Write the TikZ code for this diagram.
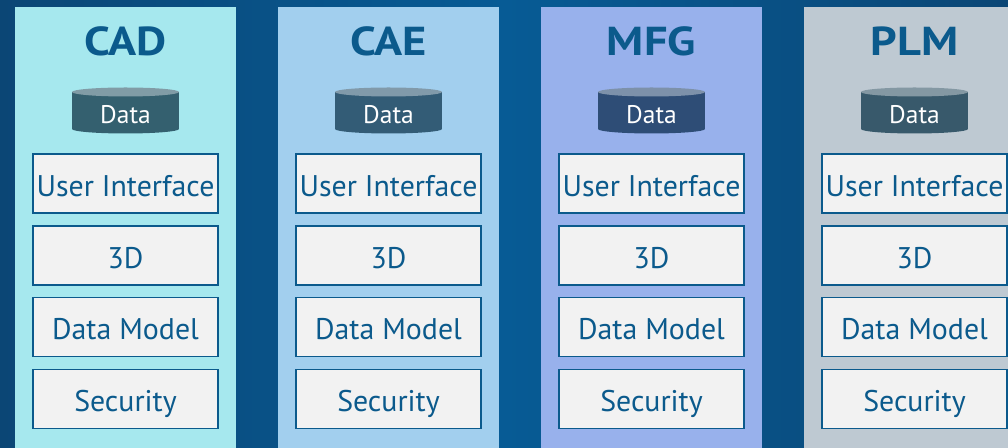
\documentclass[tikz,border=0pt]{standalone}
\usepackage{fontspec}
\setmainfont{PT Sans}
\usetikzlibrary{calc}

\definecolor{bgdark}{HTML}{0B4675}
\definecolor{bgmid}{HTML}{075B95}
\definecolor{colCAD}{HTML}{A6E8EE}
\definecolor{colCAE}{HTML}{A2CFEE}
\definecolor{colMFG}{HTML}{98B1EC}
\definecolor{colPLM}{HTML}{BEC9D2}
\definecolor{cylCAD}{HTML}{34606F}
\definecolor{cylCAE}{HTML}{335C76}
\definecolor{cylMFG}{HTML}{2E4D76}
\definecolor{cylPLM}{HTML}{38596B}
\definecolor{ink}{HTML}{0B5A8C}
\definecolor{boxfill}{HTML}{F2F2F2}

\begin{document}
\begin{tikzpicture}[x=0.02cm, y=-0.02cm,
  title/.style={text=ink, inner sep=0pt, xscale=1.15, font=\fontsize{23}{25}\selectfont\bfseries},
  datatext/.style={text=white, inner sep=0pt, font=\fontsize{14.5}{16}\selectfont},
  layer/.style={draw=ink, fill=boxfill, line width=1.1pt, text=ink,
    minimum width=3.7cm, minimum height=1.18cm, inner sep=0pt,
    text height=15pt, text depth=0.2pt, font=\fontsize{17}{19}\selectfont}]

\useasboundingbox (0,0) rectangle (1008,448);
\clip (0,0) rectangle (1008,448);
\shade[left color=bgdark, right color=bgdark, middle color=bgmid] (0,0) rectangle (1008,448);

\foreach \name/\col/\cyl [count=\i from 0] in {CAD/colCAD/cylCAD, CAE/colCAE/cylCAE,
    MFG/colMFG/cylMFG, PLM/colPLM/cylPLM} {
  \pgfmathsetmacro\cx{125.5+263*\i}
  \fill[\col] (\cx-110.5,7) rectangle (\cx+110.5,460);
  \node[title] (title\name) at (\cx,41.5) {\name};

  % data store
  \coordinate (cyl\name) at (\cx,113);
  \fill[\cyl] ($(cyl\name)+(-53.5,-21)$) rectangle ($(cyl\name)+(53.5,16)$);
  \fill[\cyl] ($(cyl\name)+(0,16)$) ellipse [x radius=1.07cm, y radius=0.09cm];
  \fill[\cyl!62!white] ($(cyl\name)+(0,-21)$) ellipse [x radius=1.07cm, y radius=0.09cm];
  \node[datatext] (data\name) at ($(cyl\name)+(0,1.5)$) {Data};

  % layers
  \node[layer] (ui\name)     at (\cx,183.5) {User Interface};
  \node[layer] (threed\name) at (\cx,255.5) {3D};
  \node[layer] (model\name)  at (\cx,327)   {Data Model};
  \node[layer] (sec\name)    at (\cx,399)   {Security};
}

\end{tikzpicture}
\end{document}
